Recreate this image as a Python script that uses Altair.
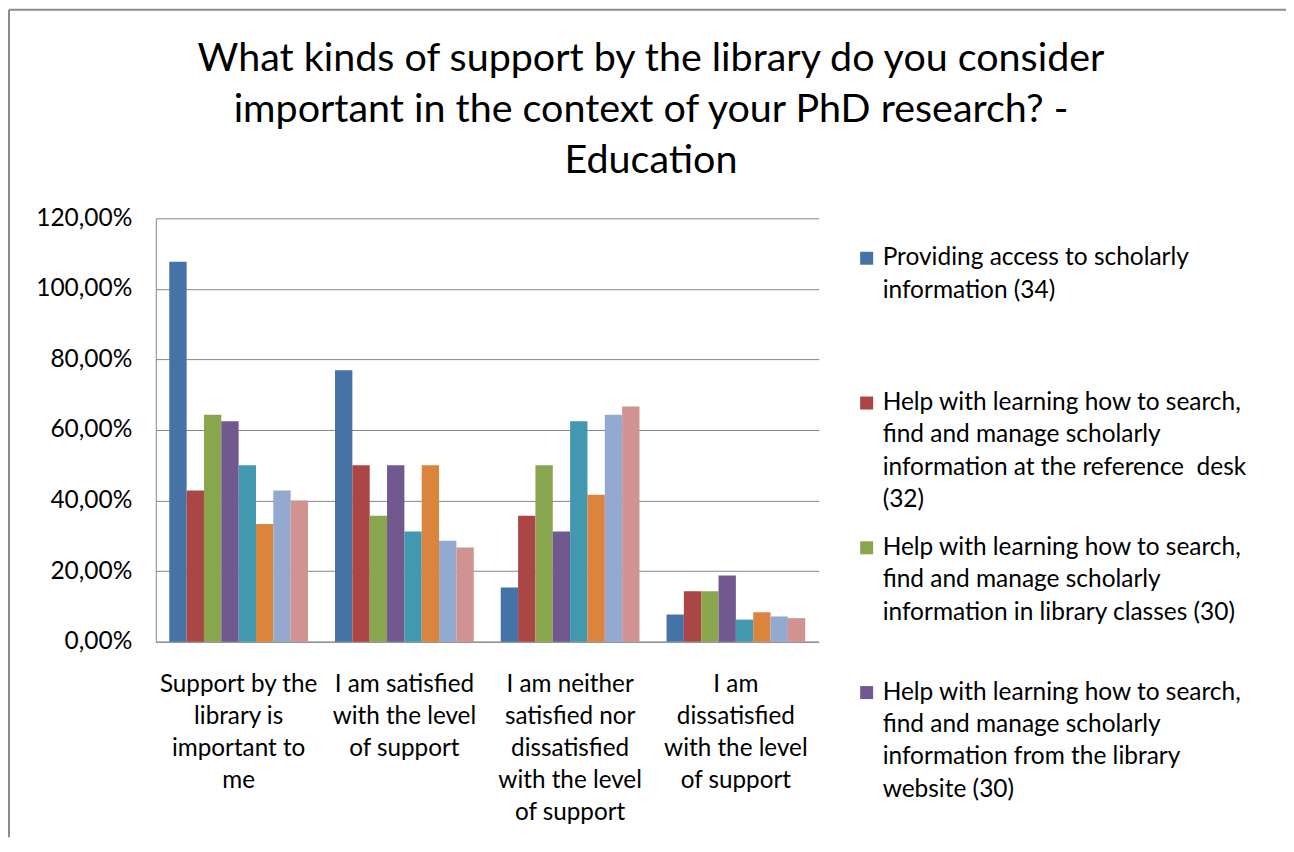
import altair as alt
import pandas as pd

categories = [
    "Support by the\nlibrary is\nimportant to\nme",
    "I am satisfied\nwith the level\nof support",
    "I am neither\nsatisfied nor\ndissatisfied\nwith the level\nof support",
    "I am\ndissatisfied\nwith the level\nof support",
]

series = [
    "Providing access to scholarly information (34)",
    "Help with learning how to search, find and manage scholarly information at the reference desk (32)",
    "Help with learning how to search, find and manage scholarly information in library classes (30)",
    "Help with learning how to search, find and manage scholarly information from the library website (30)",
    "Series 5",
    "Series 6",
    "Series 7",
    "Series 8",
]

values = [
    [1.0769, 0.7692, 0.1538, 0.0769],
    [0.4286, 0.5000, 0.3571, 0.1429],
    [0.6429, 0.3571, 0.5000, 0.1429],
    [0.6250, 0.5000, 0.3125, 0.1875],
    [0.5000, 0.3125, 0.6250, 0.0625],
    [0.3333, 0.5000, 0.4167, 0.0833],
    [0.4286, 0.2857, 0.6429, 0.0714],
    [0.4000, 0.2667, 0.6667, 0.0667],
]

colors = ["#4572A7", "#AA4643", "#89A54E", "#71588F",
          "#4198AF", "#DB843D", "#93A9CF", "#D19392"]

legend_lines = [
    "Providing access to scholarly\ninformation (34)",
    "Help with learning how to search,\nfind and manage scholarly\ninformation at the reference\u00a0 desk\n(32)",
    "Help with learning how to search,\nfind and manage scholarly\ninformation in library classes (30)",
    "Help with learning how to search,\nfind and manage scholarly\ninformation from the library\nwebsite (30)",
]

title_text = ("What kinds of support by the library do you consider\n"
              "important in the context of your PhD research? -\n"
              "Education")

FONT = "Lato"
W, H = 664, 424
PAD_L, PAD_T = 148, 210
TOTAL_W, TOTAL_H = 1280, 830

rows = []
for si, s in enumerate(series):
    for ci, c in enumerate(categories):
        rows.append({"category": c, "series": s, "order": si, "value": values[si][ci]})
df = pd.DataFrame(rows)

leg = pd.DataFrame({
    "entry": list(range(len(legend_lines))),
    "text": legend_lines,
    "series": series[:len(legend_lines)],
})

grey = "#868686"

bars = alt.Chart(df).mark_bar().encode(
    x=alt.X("category:N", sort=categories,
            scale=alt.Scale(paddingInner=0.163, paddingOuter=0.0815),
            axis=alt.Axis(title=None, labelAngle=0, ticks=False, domainColor=grey,
                          labelExpr="split(datum.label, '\\n')",
                          labelFontSize=24.3, labelFont=FONT, labelColor="#000000",
                          labelLineHeight=32, labelPadding=31, labelBaseline="top")),
    xOffset=alt.XOffset("series:N", sort=series, scale=alt.Scale(paddingInner=0, paddingOuter=0)),
    y=alt.Y("value:Q", scale=alt.Scale(domain=[0, 1.2], nice=False),
            axis=alt.Axis(title=None, values=[0, 0.2, 0.4, 0.6, 0.8, 1.0, 1.2],
                          labelExpr="replace(format(datum.value, '.2%'), '.', ',')",
                          ticks=False, domainColor=grey, gridColor=grey, grid=True,
                          labelFontSize=24.5, labelFont=FONT, labelColor="#000000",
                          labelPadding=24)),
    color=alt.Color("series:N", sort=series,
                    scale=alt.Scale(domain=series, range=colors), legend=None),
)

leg_sq = alt.Chart(leg).transform_calculate(
    ly="40 + datum.entry * 145"
).mark_square(size=169, opacity=1, filled=True).encode(
    x=alt.value(W + 48),
    y=alt.Y("ly:Q", scale=None, axis=None),
    color=alt.Color("series:N", scale=alt.Scale(domain=series, range=colors), legend=None),
)

leg_txt = alt.Chart(leg).transform_calculate(
    ly="40 + datum.entry * 145 - 16"
).mark_text(align="left", baseline="line-top", lineBreak="\n", lineHeight=32.5,
            fontSize=24.5, font=FONT, color="#000000").encode(
    x=alt.value(W + 64),
    y=alt.Y("ly:Q", scale=None, axis=None),
    text="text:N",
)

title = alt.Chart(alt.Data(values=[{"t": title_text}])).mark_text(
    align="center", baseline="alphabetic", lineBreak="\n", lineHeight=51.5,
    fontSize=39.5, font=FONT, color="#000000"
).encode(
    x=alt.value(496), y=alt.value(-148), text="t:N",
)

frame = alt.Chart(alt.Data(values=[{}])).mark_rule(color="#8c8c8c", strokeWidth=2).encode(
    x=alt.value(-PAD_L + 1), x2=alt.value(TOTAL_W - PAD_L),
    y=alt.value(-PAD_T + 1),
)
frame_l = alt.Chart(alt.Data(values=[{}])).mark_rule(color="#8c8c8c", strokeWidth=2).encode(
    x=alt.value(-PAD_L + 1),
    y=alt.value(-PAD_T + 1), y2=alt.value(TOTAL_H - PAD_T),
)

chart = alt.layer(bars, leg_sq, leg_txt, title, frame, frame_l).resolve_scale(
    y="independent", color="shared"
).properties(
    width=W, height=H,
    autosize=alt.AutoSizeParams(type="none"),
    padding={"left": PAD_L, "top": PAD_T, "right": TOTAL_W - PAD_L - W,
             "bottom": TOTAL_H - PAD_T - H},
).configure(background="white").configure_view(stroke=None)

chart.save("out.html", embed_options={"renderer": "svg", "actions": False})
